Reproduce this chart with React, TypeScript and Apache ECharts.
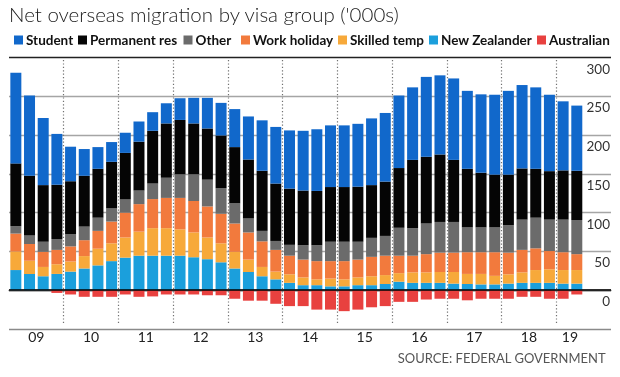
import React, { useEffect, useRef } from 'react';
import * as echarts from 'echarts';

const categories = [
  '2009-Q1', '2009-Q2', '2009-Q3', '2009-Q4',
  '2010-Q1', '2010-Q2', '2010-Q3', '2010-Q4',
  '2011-Q1', '2011-Q2', '2011-Q3', '2011-Q4',
  '2012-Q1', '2012-Q2', '2012-Q3', '2012-Q4',
  '2013-Q1', '2013-Q2', '2013-Q3', '2013-Q4',
  '2014-Q1', '2014-Q2', '2014-Q3', '2014-Q4',
  '2015-Q1', '2015-Q2', '2015-Q3', '2015-Q4',
  '2016-Q1', '2016-Q2', '2016-Q3', '2016-Q4',
  '2017-Q1', '2017-Q2', '2017-Q3', '2017-Q4',
  '2018-Q1', '2018-Q2', '2018-Q3', '2018-Q4',
  '2019-Q1', '2019-Q2',
];

const yearLabels = ['09', '10', '11', '12', '13', '14', '15', '16', '17', '18', '19'];

const student = [117, 103.5, 86.5, 65.5, 44.5, 34.5, 28, 25.5, 26, 26, 24, 26, 28, 33, 39.5, 42, 49, 55.5, 65, 73, 75, 77, 79.5, 79.5, 79.5, 81, 86, 88.5, 93.5, 93.5, 103, 102, 105, 100.5, 101, 103, 108, 107.5, 105, 98.5, 89, 84];
const permanentRes = [81, 77, 73, 70, 68, 65.5, 63, 60, 60, 63, 68, 70, 70, 65.5, 66, 68, 72.5, 76, 77.5, 74, 72.5, 70.5, 70, 70.5, 70.5, 71, 68, 70, 77, 88, 86, 87, 80, 75.5, 70.5, 68, 65, 66, 63, 62.5, 63.5, 63.5];
const other = [9.5, 11, 13, 14, 16, 17.5, 17, 17, 17, 17.5, 20, 26, 30.5, 34.5, 34.5, 33, 26, 18, 13.5, 11.5, 14, 18.5, 20.5, 25, 25, 23, 24.5, 25.5, 36, 35.5, 39.5, 39.5, 39.5, 32, 32, 32, 35.5, 39, 39.5, 40.5, 42, 44];
const workHoliday = [23, 21.5, 19.5, 18.5, 19.5, 20.5, 23, 28, 32, 35.5, 37.5, 39, 40.5, 40.5, 40, 38, 36.5, 35, 33, 28, 24, 23, 23.5, 22.5, 23.5, 23, 25, 25, 22.5, 21.5, 23.5, 25, 25, 28, 28, 30.5, 28, 29, 28, 23.5, 23, 20.5];
const skilledTemp = [24, 17, 12, 12.5, 13, 16, 21.5, 23, 26, 31, 35.5, 35.5, 34, 32, 28, 24.5, 21.5, 16, 12, 10, 11, 10, 7.5, 10, 9, 10, 11.5, 11.5, 11, 13.5, 13.5, 14, 15, 13, 13.5, 11, 12, 13.5, 16.5, 17.5, 17.5, 17.5];
const newZealander = [26, 21, 18, 21, 24, 28, 32, 37.5, 42, 44.5, 44.5, 44.5, 44.5, 42.5, 40, 36, 28, 23.5, 18, 14, 9.5, 6.5, 6.5, 5, 5, 6.5, 6.5, 8, 11, 9.5, 9.5, 9.5, 8.5, 8, 7.5, 7.5, 8.5, 9.5, 9.5, 9.5, 8.5, 8.5];
const australian = [0, 0, 0, -3.5, -5.5, -8.5, -8.5, -8.5, -5.5, -8.5, -8, -5.5, -5.5, -5.5, -6.5, -6.5, -11, -13.5, -13.5, -17.5, -20.5, -20.5, -25, -25, -27, -25, -22, -20.5, -15, -15, -12, -11, -11, -13, -11, -11, -11, -8.5, -8.5, -11, -11, -5.5];

const yTicks = [0, 50, 100, 150, 200, 250, 300];

const FONT = 'Lato, "Open Sans", Roboto, sans-serif';

export default function App() {
  const ref = useRef<HTMLDivElement>(null);

  useEffect(() => {
    if (!ref.current) return;
    const chart = echarts.init(ref.current, null, { renderer: 'svg' });

    // year groups -> label centre and separators (in category index units)
    const yearOf = (c: string) => c.slice(2, 4);
    const labelPos: number[] = [];
    const labelText: Record<string, string> = {};
    yearLabels.forEach((y) => {
      const idx = categories.map((c, i) => (yearOf(c) === y ? i : -1)).filter((i) => i >= 0);
      if (idx.length) {
        const mid = (idx[0] + idx[idx.length - 1]) / 2;
        labelPos.push(mid);
        labelText[mid.toFixed(2)] = y;
      }
    });
    const separators: number[] = [];
    for (let i = 1; i < categories.length; i++) {
      if (yearOf(categories[i]) !== yearOf(categories[i - 1])) separators.push(i - 0.5);
    }

    const seriesDefs = [
      { name: 'New Zealander', data: newZealander, color: '#1b9fdc' },
      { name: 'Skilled temp', data: skilledTemp, color: '#f7a93a' },
      { name: 'Work holiday', data: workHoliday, color: '#f27a3d' },
      { name: 'Other', data: other, color: '#6b6b6b' },
      { name: 'Permanent res', data: permanentRes, color: '#050505' },
      { name: 'Student', data: student, color: '#1168cb' },
      { name: 'Australian', data: australian, color: '#e8413f' },
    ];

    const legendNames = ['Student', 'Permanent res', 'Other', 'Work holiday', 'Skilled temp', 'New Zealander', 'Australian'];
    const legendX = [14, 78, 183.5, 241, 338, 429, 537];

    const series: any[] = seriesDefs.map((s) => ({
      name: s.name,
      type: 'bar',
      stack: 'total',
      data: s.data,
      barWidth: 11,
      itemStyle: { color: s.color },
      xAxisIndex: 0,
      yAxisIndex: 0,
    }));
    series[series.length - 1].markLine = {
      silent: true,
      symbol: ['none', 'none'],
      label: { show: false },
      lineStyle: { color: '#000', width: 1.5, type: 'solid' },
      data: [{ yAxis: 0 }],
    };

    chart.setOption({
      animation: false,
      title: {
        text: "Net overseas migration by visa group ('000s)",
        left: 9,
        top: 3,
        padding: 0,
        textStyle: { fontFamily: FONT, fontWeight: 300, fontSize: 20.5, color: '#222' },
      },
      legend: legendNames.map((n, i) => ({
        data: [n],
        left: legendX[i],
        top: 33,
        padding: 0,
        icon: 'rect',
        itemWidth: 9,
        itemHeight: 9,
        selectedMode: false,
        textStyle: { fontFamily: FONT, fontWeight: 'bold', fontSize: 13.5, color: '#111', padding: [0, 0, 0, -2] },
      })),
      grid: { left: 9, right: 9, top: 57.5, bottom: 48, containLabel: false },
      xAxis: [
        {
          type: 'category',
          data: categories,
          max: 43,
          axisLine: { show: true, lineStyle: { color: '#8a8a8a', width: 1.3 } },
          axisTick: { show: false },
          axisLabel: { show: false },
          splitLine: { show: false },
        },
        {
          type: 'value',
          min: -0.5,
          max: 43.5,
          position: 'bottom',
          offset: -6,
          axisLine: { show: false },
          splitLine: { show: false },
          axisTick: {
            show: true,
            inside: true,
            length: 265,
            customValues: separators,
            lineStyle: { color: '#707070', width: 1.2, type: [1.2, 2.2] },
          },
          axisLabel: {
            show: true,
            customValues: labelPos,
            margin: 6,
            fontFamily: FONT,
            fontSize: 14,
            color: '#222',
            formatter: (v: number) => labelText[v.toFixed(2)] ?? '',
          },
        },
      ],
      yAxis: {
        type: 'value',
        position: 'right',
        min: -50,
        max: 300,
        interval: 50,
        axisLine: { show: false },
        axisTick: { show: false },
        axisLabel: {
          inside: true,
          margin: 1,
          verticalAlign: 'top',
          lineHeight: 16,
          padding: [3, 0, 0, 0],
          fontFamily: FONT,
          fontSize: 13.5,
          color: '#333',
          formatter: (v: number) => (yTicks.includes(v) ? String(v) : ''),
        },
        splitLine: {
          show: true,
          lineStyle: {
            color: ['#8a8a8a', '#000', '#a5a5a5', '#a5a5a5', '#a5a5a5', '#a5a5a5', '#a5a5a5', '#222'],
            width: 1.3,
          },
        },
      },
      graphic: [
        {
          type: 'text',
          right: 14,
          top: 351,
          style: { text: 'SOURCE: FEDERAL GOVERNMENT', font: `13px ${FONT}`, fill: '#555' },
        },
      ],
      series,
    });

    return () => chart.dispose();
  }, []);

  return <div ref={ref} style={{ position: 'fixed', left: 0, top: 0, width: 620, height: 377 }} />;
}
